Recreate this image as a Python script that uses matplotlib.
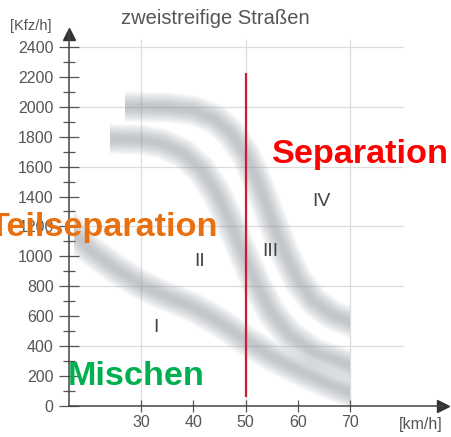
import matplotlib.pyplot as plt
import numpy as np
from matplotlib import font_manager
from matplotlib.patches import Rectangle

# band centre lines (km/h, Kfz/h)
band_top_x = [26.9, 35, 40, 44, 47, 50, 52.5, 55, 57.5, 60, 63, 66.5, 70]
band_top_y = [2000, 1995, 1975, 1920, 1830, 1680, 1480, 1240, 1020, 840, 700, 610, 560]
band_mid_x = [24.1, 30, 34, 38, 41.5, 44.5, 47, 49.5, 52, 55, 58.5, 63, 70]
band_mid_y = [1785, 1780, 1755, 1690, 1580, 1420, 1230, 1020, 820, 620, 470, 360, 270]
band_low_x = [17.2, 20, 25, 30, 35, 40, 45, 50, 55, 60, 65, 70]
band_low_y = [1160, 1050, 920, 810, 730, 660, 560, 440, 330, 240, 160, 90]

x_ticks = [30, 40, 50, 60, 70]
y_ticks = list(range(0, 2401, 200))
y_minor = list(range(100, 2400, 200))
grid_y = [400, 800, 1200, 1600, 2000, 2400]
grid_x = [30, 50, 70]

zones = ["I", "II", "III", "IV"]
zone_x = [32.9, 41.1, 54.7, 64.4]
zone_y = [522, 963, 1030, 1365]

limit_speed = 50

FONT = ["Liberation Sans", "DejaVu Sans"]
GREY = "#555555"

installed = {f.name for f in font_manager.fontManager.ttflist}
narrow = [n for n in ("Liberation Sans Narrow", "DejaVu Sans Condensed") if n in installed]
if narrow:
    BIG_FONT = [narrow[0], "Liberation Sans"]
    BIG_SIZE = 30
else:
    BIG_FONT = FONT
    BIG_SIZE = 24.7

plt.rcParams["font.family"] = FONT

fig = plt.figure(figsize=(4.51, 4.37), dpi=100)
ax = fig.add_axes([69 / 451, 31 / 437, 374 / 451, 376 / 437])
ax.set_xlim(16.23, 87.7)
ax.set_ylim(0, 2513)

# light grid
ax.hlines(grid_y, 16.23, 80, color="#dcdcdc", linewidth=0.9, zorder=0)
ax.vlines(grid_x, 0, 2450, color="#dcdcdc", linewidth=0.9, zorder=0)

# soft grey bands
for bx, by in [(band_low_x, band_low_y), (band_mid_x, band_mid_y), (band_top_x, band_top_y)]:
    clip = Rectangle((bx[0], -200), 70 - bx[0], 3000, transform=ax.transData)
    for w in np.linspace(22, 4, 12):
        (line,) = ax.plot(bx, by, color="#8f969f", linewidth=w, alpha=0.055,
                          solid_capstyle="projecting", solid_joinstyle="round", zorder=1)
        line.set_clip_path(clip)

ax.vlines(limit_speed, 60, 2228, color="#c8202f", linewidth=1.6, zorder=3)

# axes
for side in ("top", "right"):
    ax.spines[side].set_visible(False)
for side in ("left", "bottom"):
    ax.spines[side].set_color("#444444")
    ax.spines[side].set_linewidth(1.1)
ax.plot(1, 0, ">", transform=ax.transAxes, clip_on=False, color="#333333", ms=8)
ax.plot(0, 2485, "^", transform=ax.get_yaxis_transform(), clip_on=False,
        color="#333333", ms=8)

ax.set_xticks(x_ticks)
ax.set_yticks(y_ticks)
ax.set_yticks(y_minor, minor=True)
ax.tick_params(axis="y", which="major", direction="inout", length=14, width=0.9,
               color="#555555", labelcolor=GREY, labelsize=11.5, pad=4)
ax.tick_params(axis="y", which="minor", direction="inout", length=8, width=0.9,
               color="#555555")
ax.tick_params(axis="x", which="major", direction="inout", length=9, width=0.9,
               color="#555555", labelcolor=GREY, labelsize=11.5, pad=2)

fig.text(215 / 451, 1 - 18 / 437, "zweistreifige Straßen", ha="center", va="center",
         fontsize=14.5, color=GREY)
fig.text(31 / 451, 1 - 26 / 437, "[Kfz/h]", ha="center", va="center",
         fontsize=10.5, color=GREY)
fig.text(421 / 451, 1 - 424 / 437, "[km/h]", ha="center", va="center",
         fontsize=11.5, color=GREY)

for label, zx, zy in zip(zones, zone_x, zone_y):
    ax.text(zx, zy, label, ha="center", va="center", fontsize=14, color="#444444")

ax.text(55.05, 1679, "Separation", ha="left", va="center", fontsize=BIG_SIZE,
        fontweight="bold", family=BIG_FONT, color="#ff0000", clip_on=False, zorder=5)
ax.text(44.7, 1191, "Teilseparation", ha="right", va="center", fontsize=BIG_SIZE,
        fontweight="bold", family=BIG_FONT, color="#e8700e", clip_on=False, zorder=5)
ax.text(16.0, 200, "Mischen", ha="left", va="center", fontsize=BIG_SIZE,
        fontweight="bold", family=BIG_FONT, color="#00b050", clip_on=False, zorder=5)

fig.savefig("out.png", dpi=100)
